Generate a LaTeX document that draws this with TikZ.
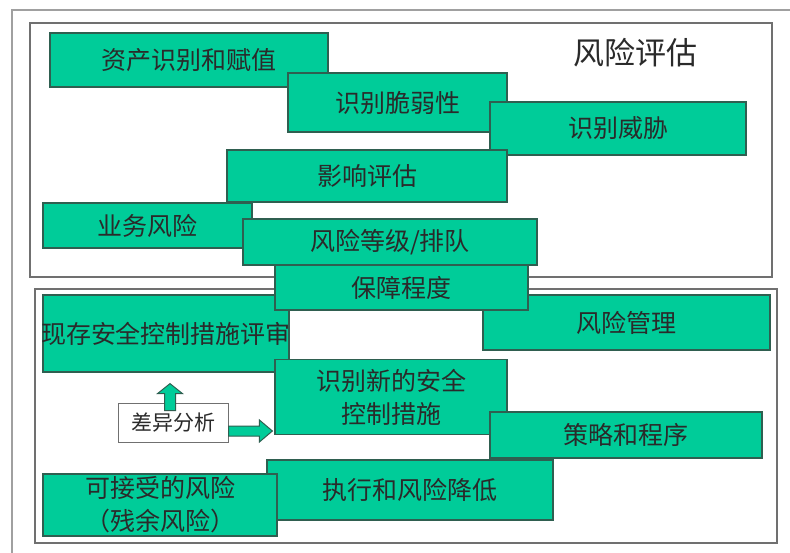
\documentclass[tikz,border=0pt]{standalone}
\usepackage{fontspec}
\setmainfont{Noto Sans CJK SC}
\usetikzlibrary{calc}
\definecolor{gfill}{HTML}{00CC99}
\definecolor{gline}{HTML}{2F5F50}
\definecolor{outerframe}{HTML}{A0A0A0}
\definecolor{boxline}{HTML}{707070}
\definecolor{txt}{HTML}{2A2A2A}
\begin{document}
\begin{tikzpicture}[x=1pt,y=-1pt,
  gbox/.style={draw=gline, fill=gfill, line width=1.2pt, inner sep=0pt, text=txt,
    font=\fontsize{25}{33}\selectfont, align=center},
  btext/.style={text=txt, font=\fontsize{25}{33}\selectfont, inner sep=0pt},
  wbox/.style={draw=boxline, fill=white, line width=1pt, inner sep=0pt, text=txt,
    font=\fontsize{21}{26}\selectfont},
  frameA/.style={draw=outerframe, line width=2pt},
  frameB/.style={draw=boxline, line width=1.4pt},
  blockarrow/.style={fill=gfill, draw=gline, line width=1pt, line join=miter}
]
\useasboundingbox (0,0) rectangle (790,553);
\fill[white] (0,0) rectangle (790,553);
% frames
\draw[frameA] (12,10) rectangle (805,570);
\draw[frameB] (30,23) rectangle (772,277);
\draw[frameB] (35,289) rectangle (777,543);
\node[text=txt, font=\fontsize{31}{36}\selectfont, inner sep=0pt] (title) at (635,53) {风险评估};
% risk assessment boxes
\node[gbox, minimum width=278pt, minimum height=54pt] (asset) at (189,60) {资产识别和赋值};
\node[gbox, minimum width=219pt, minimum height=59pt] (vuln) at (397.5,102.5) {识别脆弱性};
\node[gbox, minimum width=256pt, minimum height=53pt] (threat) at (618,128.5) {识别威胁};
\node[gbox, minimum width=280pt, minimum height=52pt] (impact) at (367,176) {影响评估};
\node[gbox, minimum width=209pt, minimum height=45pt] (biz) at (147.5,225.5) {业务风险};
\node[gbox, minimum width=294pt, minimum height=46pt] (rank) at (390,242) {风险等级/排队};
% risk management boxes
\node[gbox, minimum width=287pt, minimum height=55pt] (mgmt) at (626.5,322.5) {风险管理};
\node[gbox, minimum width=246pt, minimum height=77pt,
  label={[btext]center:现存安全控制措施评审}] (rev) at (166,333.5) {};
\node[gbox, minimum width=253pt, minimum height=45pt] (assure) at (401.5,287.5) {保障程度};
\node[gbox, minimum width=232pt, minimum height=75pt] (newc) at (391,397) {识别新的安全\\控制措施};
\node[gbox, minimum width=272pt, minimum height=46pt] (policy) at (626,435) {策略和程序};
\node[gbox, minimum width=286pt, minimum height=60pt] (exec) at (410,490) {执行和风险降低};
\node[gbox, minimum width=234pt, minimum height=62pt] (accept) at (160,505) {可接受的风险\\（残余风险）};
\node[wbox, minimum width=110pt, minimum height=39pt] (diff) at (173,422.5) {差异分析};
% block arrows
\coordinate (ub) at ($(diff.north)+(-3,8)$);
\coordinate (ut) at ($(ub |- rev.south)+(0,11)$);
\draw[blockarrow] ($(ub)+(-5.5,0)$) -- ($(ut)+(-5.5,10)$) -- ($(ut)+(-12.5,10)$) -- (ut)
  -- ($(ut)+(12.5,10)$) -- ($(ut)+(5.5,10)$) -- ($(ub)+(5.5,0)$) -- cycle;
\coordinate (rb) at ($(diff.east)+(0,8.5)$);
\coordinate (rt) at ($(rb -| newc.west)+(-2,0)$);
\draw[blockarrow] ($(rb)+(0,-5)$) -- ($(rt)+(-13,-5)$) -- ($(rt)+(-13,-11)$) -- (rt)
  -- ($(rt)+(-13,11)$) -- ($(rt)+(-13,5)$) -- ($(rb)+(0,5)$) -- cycle;
\end{tikzpicture}
\end{document}
